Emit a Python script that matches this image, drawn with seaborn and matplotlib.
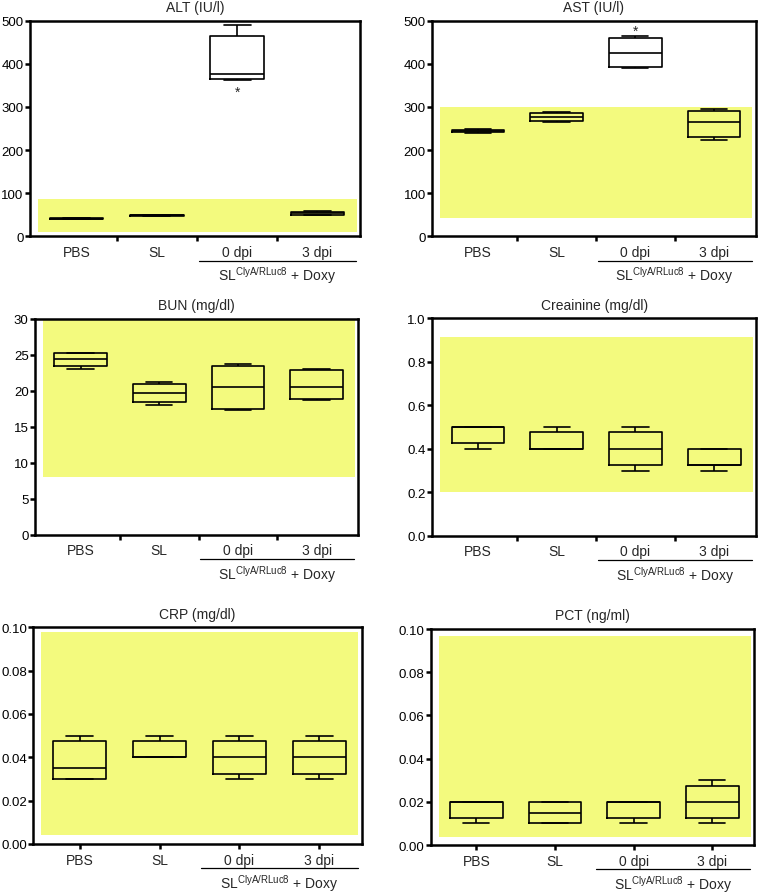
import numpy as np
import pandas as pd
import matplotlib
matplotlib.use("Agg")
import matplotlib.pyplot as plt
import matplotlib.transforms as mtransforms
from matplotlib.ticker import FixedLocator, FormatStrFormatter
import seaborn as sns

# ---------------- data (min, q1, median, q3, max per group) ----------------
groups = ["PBS", "SL", "0 dpi", "3 dpi"]

alt_values = [[39, 40, 41, 42, 43], [47, 48, 49, 49.5, 50],
              [363, 364, 377, 464, 490], [49, 50, 53, 57, 59]]
ast_values = [[240, 241, 243, 247, 249], [266, 268, 277, 286, 289],
              [390, 392, 424, 459, 464], [224, 231, 264, 290, 294]]
bun_values = [[23.1, 23.4, 24.5, 25.2, 25.3], [18.1, 18.4, 19.75, 21.0, 21.3],
              [17.3, 17.5, 20.6, 23.5, 23.7], [18.7, 18.9, 20.6, 22.9, 23.05]]
crea_values = [[0.40, 0.425, 0.50, 0.50, 0.50], [0.40, 0.40, 0.40, 0.475, 0.50],
               [0.30, 0.325, 0.40, 0.475, 0.50], [0.30, 0.325, 0.325, 0.40, 0.40]]
crp_values = [[0.030, 0.030, 0.035, 0.0475, 0.050], [0.040, 0.040, 0.040, 0.0475, 0.050],
              [0.030, 0.0325, 0.040, 0.0475, 0.050], [0.030, 0.0325, 0.040, 0.0475, 0.050]]
pct_values = [[0.010, 0.0125, 0.020, 0.020, 0.020], [0.010, 0.010, 0.015, 0.020, 0.020],
              [0.010, 0.0125, 0.020, 0.020, 0.020], [0.010, 0.0125, 0.020, 0.0275, 0.030]]

# reference (normal) ranges shaded in yellow
alt_ref = (10, 86)
ast_ref = (42, 300)
bun_ref = (8, 29.8)
crea_ref = (0.2, 0.913)
crp_ref = (0.004, 0.098)
pct_ref = (0.0035, 0.097)

titles = ["ALT (IU/l)", "AST (IU/l)", "BUN (mg/dl)", "Creainine (mg/dl)",
          "CRP (mg/dl)", "PCT (ng/ml)"]
yticks_list = [[0, 100, 200, 300, 400, 500], [0, 100, 200, 300, 400, 500],
               [0, 5, 10, 15, 20, 25, 30], [0.0, 0.2, 0.4, 0.6, 0.8, 1.0],
               [0.00, 0.02, 0.04, 0.06, 0.08, 0.10], [0.00, 0.02, 0.04, 0.06, 0.08, 0.10]]
yfmt = [None, None, None, "%.1f", "%.2f", "%.2f"]

# stars (group index, y value)
alt_star = (2, 336)
ast_star = (2, 476)

# ---------------- style ----------------
sns.set_theme(style="white")
plt.rcParams["font.family"] = ["Liberation Sans", "DejaVu Sans"]
plt.rcParams["mathtext.fontset"] = "custom"
plt.rcParams["mathtext.rm"] = "Liberation Sans"
plt.rcParams["mathtext.it"] = "Liberation Sans:italic"

YELLOW = "#F3FA7E"
FS = 10
YFS = 9.5
TL = 3.6

fig = plt.figure(figsize=(7.58, 8.95), dpi=100)

positions = [
    (0.0396, 0.7349, 0.4354, 0.2409),
    (0.5703, 0.7349, 0.4266, 0.2409),
    (0.0462, 0.4015, 0.4265, 0.2410),
    (0.5703, 0.4003, 0.4270, 0.2429),
    (0.0439, 0.0559, 0.4332, 0.2421),
    (0.5682, 0.0547, 0.4265, 0.2413),
]
all_values = [alt_values, ast_values, bun_values, crea_values, crp_values, pct_values]
refs = [alt_ref, ast_ref, bun_ref, crea_ref, crp_ref, pct_ref]
stars = [alt_star, ast_star, None, None, None, None]

for i in range(6):
    ax = fig.add_axes(positions[i])
    vals = all_values[i]
    df = pd.DataFrame({
        "group": np.repeat(groups, [len(v) for v in vals]),
        "value": np.concatenate([np.asarray(v, float) for v in vals]),
    })
    lo, hi = refs[i]
    ax.axhspan(lo, hi, xmin=0.025, xmax=0.99, color=YELLOW, lw=0, zorder=0)
    sns.boxplot(data=df, x="group", y="value", order=groups, ax=ax,
                fill=False, color="black", linecolor="black", linewidth=1.2,
                whis=(0, 100), width=0.67, showfliers=False, zorder=3)
    yt = yticks_list[i]
    ax.set_ylim(yt[0], yt[-1])
    ax.set_xlim(-0.58, 3.53)
    ax.set_yticks(yt)
    if yfmt[i]:
        ax.yaxis.set_major_formatter(FormatStrFormatter(yfmt[i]))
    ax.set_xlabel("")
    ax.set_ylabel("")
    ax.set_title(titles[i], fontsize=FS, pad=7)
    for s in ax.spines.values():
        s.set_visible(True)
        s.set_color("black")
        s.set_linewidth(1.8)
    ax.tick_params(axis="y", direction="out", length=TL, width=1.8, labelsize=YFS,
                   left=True, pad=1, colors="black")
    if i < 4:
        ax.tick_params(axis="x", which="major", length=0, labelsize=FS, pad=6)
        ax.xaxis.set_minor_locator(FixedLocator([0.5, 1.5, 2.5]))
        ax.tick_params(axis="x", which="minor", direction="out", length=TL,
                       width=1.8, bottom=True, color="black")
    else:
        ax.tick_params(axis="x", which="major", direction="out", length=TL,
                       width=1.8, bottom=True, labelsize=FS, pad=3, color="black")
    # group bracket
    trans = mtransforms.blended_transform_factory(ax.transData, ax.transAxes)
    ax.plot([1.52, 3.48], [-0.113, -0.113], transform=trans, color="black",
            lw=0.9, clip_on=False)
    ax.text(2.5, -0.178, r"SL$^{\mathrm{ClyA/RLuc8}}$ + Doxy", transform=trans,
            ha="center", va="center", fontsize=FS)
    if stars[i] is not None:
        gx, gy = stars[i]
        ax.text(gx, gy, "*", ha="center", va="center", fontsize=10)

fig.savefig("out.png", dpi=100)
